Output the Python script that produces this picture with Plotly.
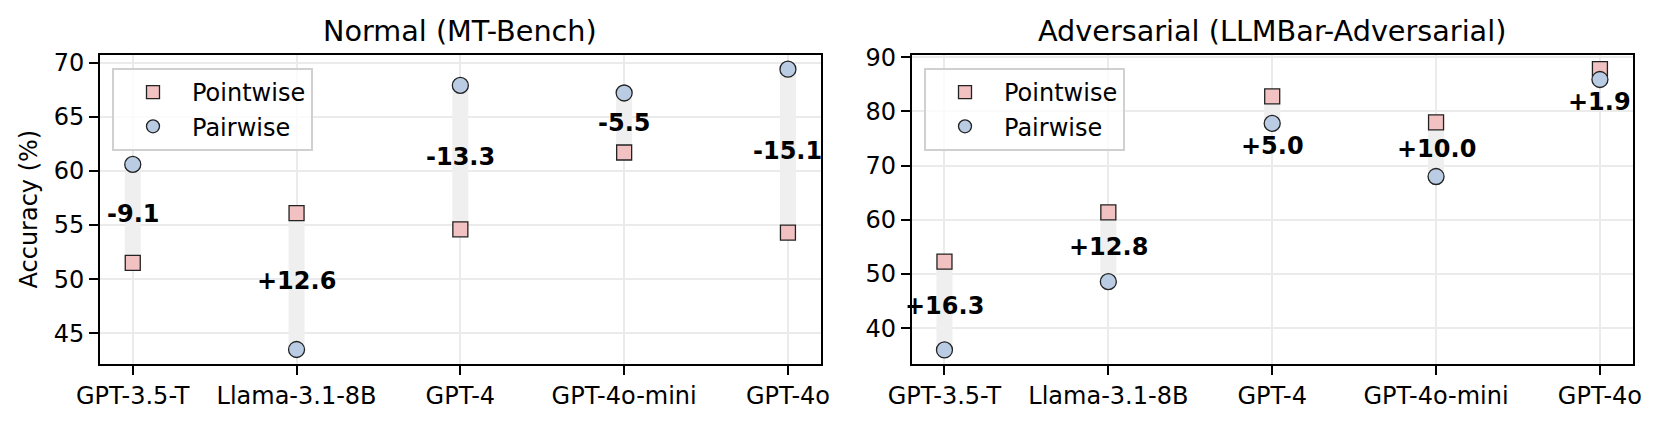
import plotly.graph_objects as go

models = ["GPT-3.5-T", "Llama-3.1-8B", "GPT-4", "GPT-4o-mini", "GPT-4o"]

normal_pointwise = [51.5, 56.1, 54.6, 61.7, 54.3]
normal_pairwise = [60.6, 43.5, 67.9, 67.2, 69.4]

adv_pointwise = [52.3, 61.4, 82.8, 78.0, 87.8]
adv_pairwise = [36.0, 48.6, 77.8, 68.0, 85.9]

titles = ["Normal (MT-Bench)", "Adversarial (LLMBar-Adversarial)"]

PINK = "#f2c1c1"
BLUE = "#b9cce4"
BAND = "#efefef"
FONT = "DejaVu Sans"
FS = 24

W, H = 1661, 423
axes_px = [(100, 820.7), (911.7, 1632.7)]
top_px, bot_px = 55, 364
yranges = [(42.16, 70.71), (33.41, 90.42)]
yticks = [[45, 50, 55, 60, 65, 70], [40, 50, 60, 70, 80, 90]]
label_offset = [2.1, 4.2]

fig = go.Figure()

panels = [(normal_pointwise, normal_pairwise), (adv_pointwise, adv_pairwise)]
xidx = list(range(len(models)))

for p, (pw, pr) in enumerate(panels):
    xa = "x" if p == 0 else "x2"
    ya = "y" if p == 0 else "y2"
    leg = "legend" if p == 0 else "legend2"
    # gray bands
    for i in xidx:
        fig.add_trace(go.Scatter(
            x=[i, i], y=[pw[i], pr[i]], mode="lines",
            line=dict(color=BAND, width=16), showlegend=False,
            hoverinfo="skip", xaxis=xa, yaxis=ya))
    fig.add_trace(go.Scatter(
        x=xidx, y=pw, mode="markers", name="Pointwise",
        marker=dict(symbol="square", size=15, color=PINK,
                    line=dict(color="#222222", width=1.3)),
        legendgroup=f"a{p}", showlegend=False, xaxis=xa, yaxis=ya))
    fig.add_trace(go.Scatter(
        x=xidx, y=pr, mode="markers", name="Pairwise",
        marker=dict(symbol="circle", size=16, color=BLUE,
                    line=dict(color="#222222", width=1.3)),
        legendgroup=f"b{p}", showlegend=False, xaxis=xa, yaxis=ya))
    # legend entries
    fig.add_trace(go.Scatter(
        x=[None], y=[None], mode="markers", name="Pointwise",
        marker=dict(symbol="square", size=13, color=PINK,
                    line=dict(color="#222222", width=1.3)),
        legendgroup=f"a{p}", showlegend=True, xaxis=xa, yaxis=ya,
        legend=leg))
    fig.add_trace(go.Scatter(
        x=[None], y=[None], mode="markers", name="Pairwise",
        marker=dict(symbol="circle", size=13, color=BLUE,
                    line=dict(color="#222222", width=1.3)),
        legendgroup=f"b{p}", showlegend=True, xaxis=xa, yaxis=ya,
        legend=leg))
    # difference labels
    for i in xidx:
        d = pw[i] - pr[i]
        if abs(d) <= 5.0:
            ypos = min(pw[i], pr[i]) - label_offset[p]
        else:
            ypos = (pw[i] + pr[i]) / 2
        fig.add_annotation(
            x=i, y=ypos, xref=xa, yref=ya, text=f"<b>{d:+.1f}</b>",
            showarrow=False, font=dict(family=FONT, size=FS, color="black"),
            xanchor="center", yanchor="middle")

def dom(a, b):
    return [a / W, b / W]

ydom = [1 - bot_px / H, 1 - top_px / H]

axis_common = dict(
    showline=True, linecolor="black", linewidth=1.8, mirror=True,
    ticks="outside", ticklen=9, tickwidth=1.6, tickcolor="black",
    showgrid=True, gridcolor="#ebebeb", gridwidth=1.5,
    zeroline=False, automargin=False,
    tickfont=dict(family=FONT, size=FS, color="black"),
)

legend_common = dict(
    xanchor="left", yanchor="top",
    bgcolor="rgba(255,255,255,0.8)", bordercolor="#d0d0d0",
    borderwidth=2, font=dict(family=FONT, size=FS, color="black"),
    tracegroupgap=0, itemwidth=68,
)

fig.update_layout(
    template="none",
    width=W, height=H, margin=dict(l=0, r=0, t=0, b=0),
    paper_bgcolor="white", plot_bgcolor="white",
    font=dict(family=FONT, color="black"),
    xaxis=dict(domain=dom(*axes_px[0]), range=[-0.2, 4.2],
               tickvals=xidx, ticktext=models, anchor="y", **axis_common),
    xaxis2=dict(domain=dom(*axes_px[1]), range=[-0.2, 4.2],
                tickvals=xidx, ticktext=models, anchor="y2", **axis_common),
    yaxis=dict(domain=ydom, range=list(yranges[0]), tickvals=yticks[0],
               anchor="x", **axis_common),
    yaxis2=dict(domain=ydom, range=list(yranges[1]), tickvals=yticks[1],
                anchor="x2", **axis_common),
    showlegend=True,
    legend=dict(x=112 / W, y=1 - 68 / H, **legend_common),
    legend2=dict(x=924 / W, y=1 - 68 / H, **legend_common),
)

# subplot titles and y-axis title
for p, t in enumerate(titles):
    cx = (axes_px[p][0] + axes_px[p][1]) / 2 / W
    fig.add_annotation(x=cx, y=1 - 31 / H, xref="paper", yref="paper",
                       text=t, showarrow=False, xanchor="center",
                       yanchor="middle",
                       font=dict(family=FONT, size=28.7, color="black"))

fig.add_annotation(x=28 / W, y=(ydom[0] + ydom[1]) / 2, xref="paper",
                   yref="paper", text="Accuracy (%)", textangle=-90,
                   showarrow=False, xanchor="center", yanchor="middle",
                   font=dict(family=FONT, size=FS, color="black"))

fig.write_html(
    "out.html",
    config={"displayModeBar": False},
    post_script="document.body.style.margin='0';document.body.style.overflow='hidden';",
)
